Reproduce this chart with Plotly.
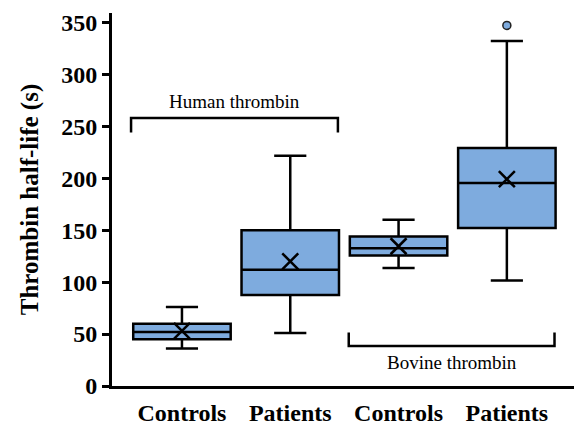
import plotly.graph_objects as go

categories = ["Controls", "Patients", "Controls", "Patients"]
x_pos = [0, 1, 2, 3]
q1 = [45, 87.5, 125.5, 152]
median = [52, 112, 132.5, 195.5]
q3 = [60, 150, 144, 229]
lower_fence = [36, 51, 113.5, 101.5]
upper_fence = [76, 221.5, 160, 332]
means = [53, 120, 134.5, 199]
outlier_x = [3]
outlier_y = [347]
yticks = [0, 50, 100, 150, 200, 250, 300, 350]

FONT = "Liberation Serif"
BLUE = "#7EABDE"

fig = go.Figure()
fig.add_trace(go.Box(
    x=x_pos, q1=q1, median=median, q3=q3,
    lowerfence=lower_fence, upperfence=upper_fence,
    width=0.9, whiskerwidth=0.33,
    fillcolor=BLUE, line=dict(color="black", width=2.5),
    boxpoints=False, showlegend=False, hoverinfo="skip",
))
fig.add_trace(go.Scatter(
    x=x_pos, y=means, mode="markers", showlegend=False,
    marker=dict(symbol="x-thin", size=16, line=dict(color="black", width=2.5)),
))
fig.add_trace(go.Scatter(
    x=outlier_x, y=outlier_y, mode="markers", showlegend=False,
    marker=dict(symbol="circle", size=8, color=BLUE, line=dict(color="#222", width=1.5)),
))

def bracket(x0, x1, y_line, y_end, text, y_text):
    fig.add_shape(type="path",
                  path=f"M {x0},{y_end} L {x0},{y_line} L {x1},{y_line} L {x1},{y_end}",
                  line=dict(color="black", width=2.5))
    fig.add_annotation(x=(x0 + x1) / 2, y=y_text, text=text, showarrow=False,
                       font=dict(size=19, color="black"))

bracket(-0.47, 1.44, 258, 244, "Human thrombin", 274)
bracket(1.54, 3.44, 38.5, 51.5, "Bovine thrombin", 23)

fig.update_layout(
    width=574, height=426,
    margin=dict(l=112, r=0, t=13, b=40),
    plot_bgcolor="white", paper_bgcolor="white",
    font=dict(family=FONT, color="black", size=24),
    xaxis=dict(
        range=[-0.646, 3.62], tickvals=x_pos,
        ticktext=[f"<b>{c}</b>" for c in categories],
        showgrid=False, zeroline=False, showline=True, linecolor="black", linewidth=3,
        ticks="", ticklabelstandoff=3, automargin=False,
    ),
    yaxis=dict(
        range=[0, 359], tickvals=yticks, ticktext=[f"<b>{v}</b>" for v in yticks],
        showgrid=False, zeroline=False, showline=True, linecolor="black", linewidth=3,
        ticks="outside", ticklen=7, tickwidth=3, tickcolor="black", automargin=False,
        title=dict(text="<b>Thrombin half-life (s)</b>", font=dict(size=25), standoff=16),
    ),
)
fig.write_html("out.html")
